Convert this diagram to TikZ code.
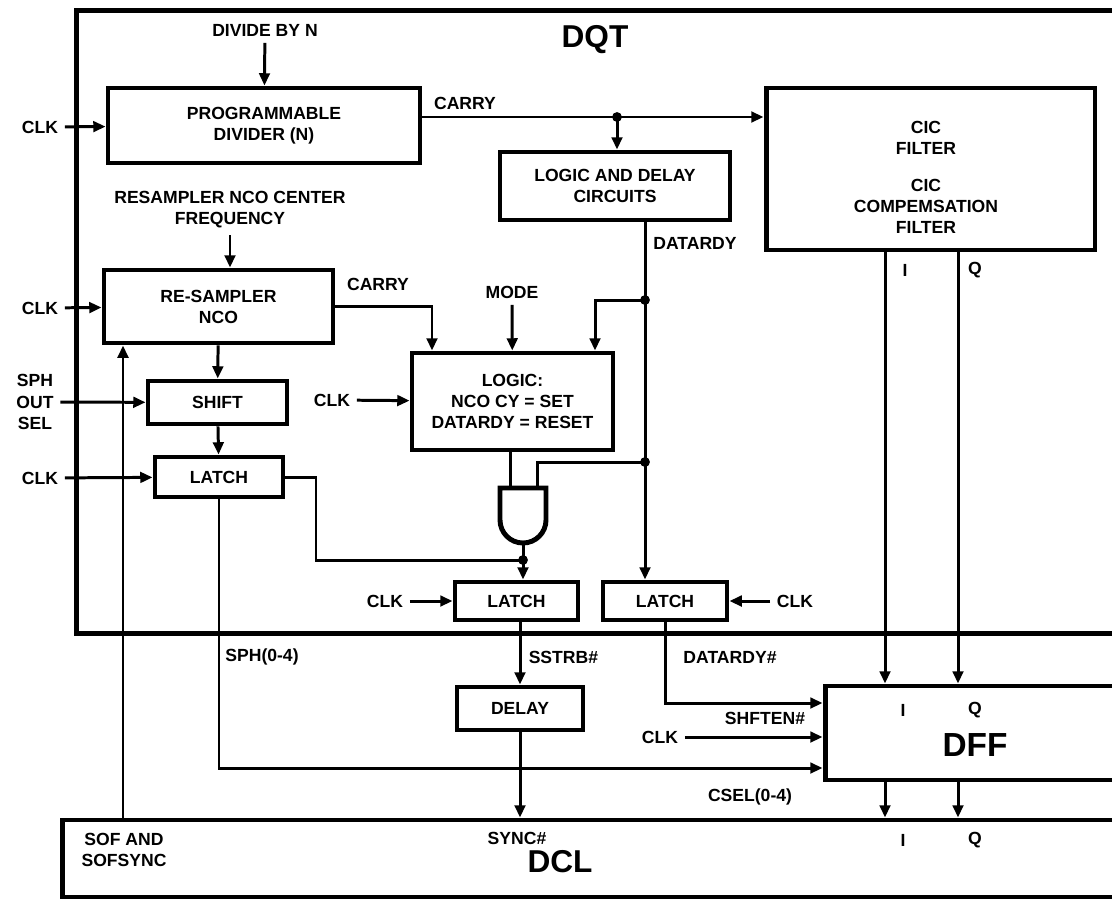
\documentclass[tikz,border=0pt]{standalone}
\usepackage{fontspec}
\setmainfont{Liberation Sans}
\usetikzlibrary{arrows.meta, positioning}
\tikzstyle{Block} = [draw, rectangle, line width=2.8pt, inner sep=0pt, align=center]
\tikzstyle{Label} = [inner sep=3pt, align=center]
\tikzstyle{Title} = [inner sep=2pt, font=\fontsize{18}{20}\selectfont\bfseries]

\begin{document}
\begin{tikzpicture}
    [x=0.02cm, y=-0.02cm, line width=1.7pt, font=\fontsize{10}{12}\selectfont\bfseries,
     >={Triangle[length=7pt,width=6pt]}]

    \clip (0,0) rectangle (1112,900);

    %% Outer blocks
    \node [Block, minimum width=21.28cm, minimum height=12.48cm] (dqt) at (608,322) {};
    \node [Title] (dqtname) at (595,40) {DQT};
    \node [Block, minimum width=21.56cm, minimum height=1.54cm] (dcl) at (601,858.5) {};
    \node [Title] (dclname) at (560,862) {DCL};
    \node [Block, minimum width=6.3cm, minimum height=1.88cm] (dff) at (982.5,733) {};
    \node [Title, font=\fontsize{19}{21}\selectfont\bfseries] (dffname) at (975,745) {DFF};

    %% DQT blocks
    \node [Block, minimum width=6.24cm, minimum height=1.5cm] (prog) at (264,125.5) {PROGRAMMABLE \\ DIVIDER (N)};
    \node [Block, minimum width=4.6cm, minimum height=1.36cm] (logdel) at (615,186) {LOGIC AND DELAY \\ CIRCUITS};
    \node [Block, minimum width=6.58cm, minimum height=3.24cm] (cic) at (930.5,169) {};
    \node [Label] (cictext) at (926,177) {CIC \\ FILTER \\[9pt] CIC \\ COMPEMSATION \\ FILTER};
    \node [Block, minimum width=4.58cm, minimum height=1.46cm] (resamp) at (218.5,306.5) {RE-SAMPLER \\ NCO};
    \node [Block, minimum width=4.02cm, minimum height=1.94cm] (logic) at (512.5,401.5) {LOGIC: \\ NCO CY = SET \\ DATARDY = RESET};
    \node [Block, minimum width=2.78cm, minimum height=0.86cm] (shift) at (217.5,402.5) {SHIFT};
    \node [Block, minimum width=2.56cm, minimum height=0.8cm] (latchA) at (219,477) {LATCH};
    \node [Block, minimum width=2.46cm, minimum height=0.76cm] (latchB) at (516.5,601) {LATCH};
    \node [Block, minimum width=2.48cm, minimum height=0.76cm] (latchC) at (665,601) {LATCH};
    \node [Block, minimum width=2.52cm, minimum height=0.86cm] (delay) at (520,708.5) {DELAY};

    %% Inputs and labels
    \node [Label] (divn) at (265,30) {DIVIDE BY N};
    \node [Label] (clkA) at (40,127) {CLK};
    \node [Label] (carryA) at (465,103) {CARRY};
    \node [Label] (center) at (230,210) {RESAMPLER NCO CENTER \\ FREQUENCY};
    \node [Label] (clkB) at (40,308) {CLK};
    \node [Label] (carryB) at (378,284) {CARRY};
    \node [Label] (mode) at (512,292) {MODE};
    \node [Label] (datardy) at (695,243) {DATARDY};
    \node [Label] (sphsel) at (35,402) {SPH \\ OUT \\ SEL};
    \node [Label] (clkC) at (332,400) {CLK};
    \node [Label] (clkD) at (40,478) {CLK};
    \node [Label] (clkE) at (385,601) {CLK};
    \node [Label] (clkF) at (795,601) {CLK};
    \node [Label] (sph) at (262,657) {SPH(0-4)};
    \node [Label, anchor=west] (sstrb) at (522,657) {SSTRB\#};
    \node [Label] (datardyn) at (730,657) {DATARDY\#};
    \node [Label] (shften) at (765,718) {SHFTEN\#};
    \node [Label] (clkG) at (660,737) {CLK};
    \node [Label] (csel) at (750,797) {CSEL(0-4)};
    \node [Label] (sync) at (517,838) {SYNC\#};
    \node [Label] (sof) at (124,850) {SOF AND \\ SOFSYNC};
    \node [Label] (iA) at (905,270) {I};
    \node [Label] (qA) at (975,270) {Q};
    \node [Label] (iB) at (903,710) {I};
    \node [Label] (qB) at (975,710) {Q};
    \node [Label] (iC) at (903,840) {I};
    \node [Label] (qC) at (975,840) {Q};

    %% Junctions
    \coordinate (cyjoin) at (617,117);
    \coordinate (rdyjoinA) at (645,300);
    \coordinate (rdyjoinB) at (645,462);
    \coordinate (rstin) at (595,0);
    \coordinate (ncoin) at (432,0);
    \coordinate (gateA) at (510,488);
    \coordinate (gateB) at (537,488);
    \coordinate (gateout) at (523,543);
    \coordinate (latjoin) at (523,560);
    \coordinate (latturn) at (316,560);
    \coordinate (shfline) at (0,703);
    \coordinate (cselline) at (0,768);
    \coordinate (sofline) at (123,820);
    \coordinate (ix) at (885,0);
    \coordinate (qx) at (958,0);

    %% AND gate
    \draw [line width=2.8pt] (500,520) -- (500,488) -- (546,488) -- (546,520)
        .. controls (546,532.7) and (535.7,543) .. (523,543)
        .. controls (510.3,543) and (500,532.7) .. (500,520) -- cycle;

    %% Draw
    \draw [->] (divn) -- (prog);
    \draw [->] (clkA) -- (prog);
    \draw (prog.east |- cyjoin) -- (cyjoin);
    \draw [->] (cyjoin) -- (cic.west |- cyjoin);
    \draw [->] (cyjoin) -- (logdel.north -| cyjoin);
    \fill (cyjoin) circle (2.8pt);

    \draw (logdel.south -| rdyjoinA) -- (rdyjoinA) -- (rdyjoinB);
    \draw [->] (rdyjoinB) -- (latchC.north -| rdyjoinB);
    \draw [->] (rdyjoinA) -| (logic.north -| rstin);
    \draw (rdyjoinB) -| (gateB);
    \fill (rdyjoinA) circle (2.8pt);
    \fill (rdyjoinB) circle (2.8pt);

    \draw [->] (center.south) -- (center.south |- resamp.north);
    \draw [->] (clkB) -- (resamp);
    \draw [->] (resamp.east) -| (logic.north -| ncoin);
    \draw [->] (mode) -- (logic);
    \draw [->] (clkC) -- (logic);

    \draw [->] (resamp) -- (shift);
    \draw [->] (sphsel) -- (shift);
    \draw [->] (shift) -- (latchA);
    \draw [->] (clkD) -- (latchA);

    \draw (logic.south -| gateA) -- (gateA);
    \draw (gateout) -- (latjoin);
    \draw (latchA.east) -| (latturn) -- (latjoin);
    \fill (latjoin) circle (2.8pt);
    \draw [->] (latjoin) -- (latchB.north -| latjoin);
    \draw [->] (clkE) -- (latchB);
    \draw [->] (clkF) -- (latchC);

    \draw [->] (latchB.south -| delay.north) -- (delay.north);
    \draw [->] (delay.south) -- (delay.south |- dcl.north);
    \draw [->] (latchC.south) |- (shfline -| dff.west);
    \draw [->] (clkG) -- (clkG -| dff.west);
    \draw [->] (latchA.south) |- (cselline -| dff.west);
    \draw [->] (sofline) -- (sofline |- resamp.south);

    \draw [->] (cic.south -| ix) -- (dff.north -| ix);
    \draw [->] (cic.south -| qx) -- (dff.north -| qx);
    \draw [->] (dff.south -| ix) -- (dcl.north -| ix);
    \draw [->] (dff.south -| qx) -- (dcl.north -| qx);

\end{tikzpicture}
\end{document}
